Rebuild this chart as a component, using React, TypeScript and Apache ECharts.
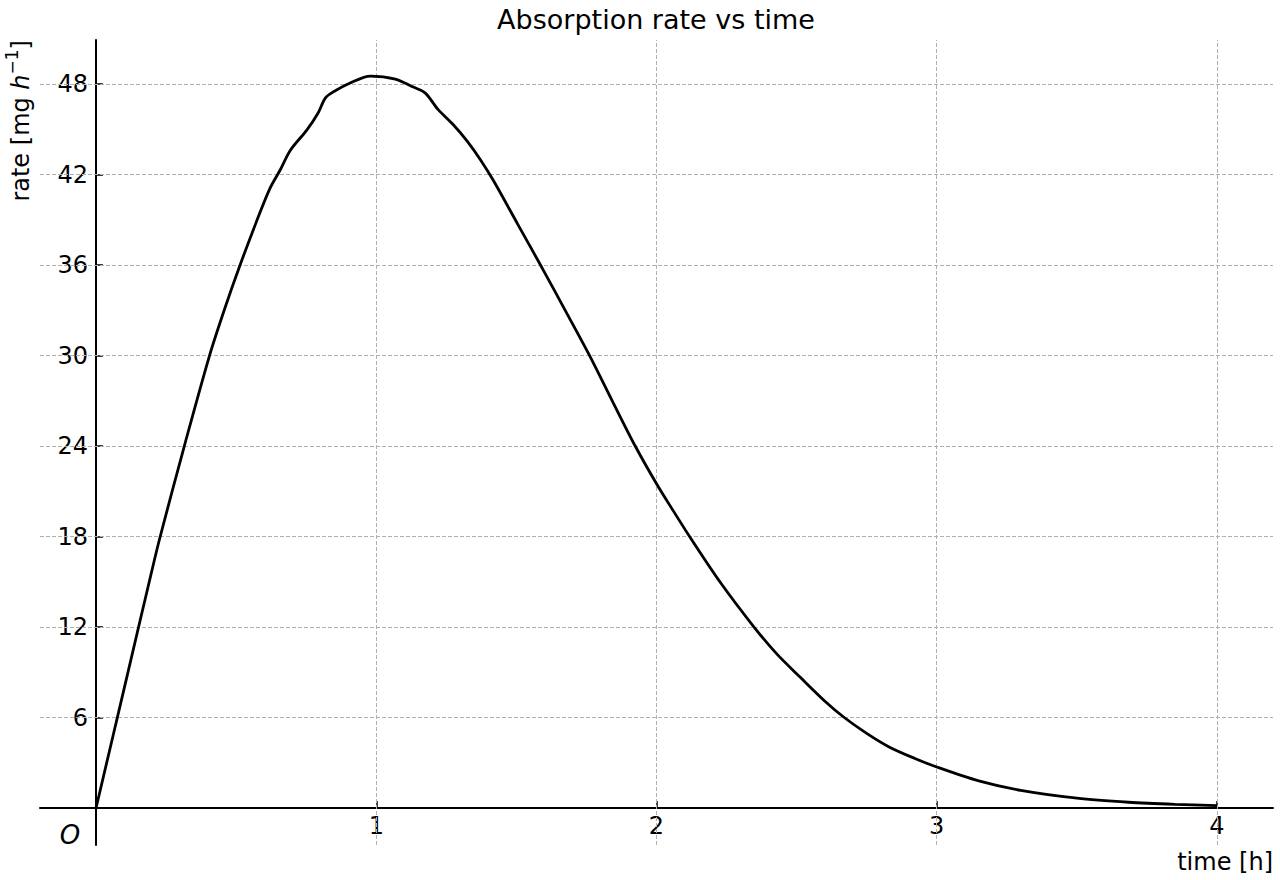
import React, { useEffect, useRef } from "react";
import * as echarts from "echarts";

const timeH = [0, 0.1, 0.2, 0.229, 0.315, 0.405, 0.46, 0.514, 0.577, 0.621, 0.657, 0.693, 0.752, 0.793, 0.818, 0.846, 0.907, 0.979, 1.068, 1.132, 1.175, 1.221, 1.275, 1.325, 1.371, 1.418, 1.505, 1.592, 1.68, 1.764, 1.842, 1.924, 2.0, 2.06, 2.125, 2.23, 2.348, 2.43, 2.514, 2.6, 2.67, 2.75, 2.83, 2.92, 3.0, 3.15, 3.3, 3.5, 3.685, 3.85, 4.0];
const rate = [0, 7.9, 15.8, 18, 24, 30, 33.15, 36, 39.1, 41.1, 42.3, 43.6, 44.95, 46.1, 47.07, 47.47, 48.07, 48.53, 48.33, 47.8, 47.4, 46.3, 45.3, 44.2, 43.0, 41.6, 38.7, 35.8, 32.8, 29.9, 27.0, 24, 21.5, 19.7, 17.8, 14.9, 12, 10.2, 8.65, 7.1, 6.0, 4.95, 4.05, 3.3, 2.72, 1.8, 1.17, 0.65, 0.38, 0.24, 0.16];
const xTicks = [1, 2, 3, 4];
const yTicks = [6, 12, 18, 24, 30, 36, 42, 48];
const xRange = [-0.2, 4.2];
const yRange = [-2.453, 50.92];

const FONT = "DejaVu Sans";

export default function App() {
  const ref = useRef<HTMLDivElement>(null);
  useEffect(() => {
    const chart = echarts.init(ref.current!, null, { renderer: "svg" });
    const W = 1280, H = 880;
    const gL = 40, gR = 7, gT = 40, gB = 35;
    const gw = W - gL - gR, gh = H - gT - gB;
    // move the spines to the data origin (the other axis' zero)
    const xAxisOffset = -((0 - yRange[0]) / (yRange[1] - yRange[0])) * gh;
    const yAxisOffset = -((0 - xRange[0]) / (xRange[1] - xRange[0])) * gw;
    const gridStyle = { type: [4, 2] as any, color: "#b0b0b0", width: 1 };
    chart.setOption({
      animation: false,
      backgroundColor: "#fff",
      grid: { left: gL, right: gR, top: gT, bottom: gB, containLabel: false },
      xAxis: {
        type: "value",
        min: xRange[0],
        max: xRange[1],
        offset: xAxisOffset,
        axisLine: { onZero: false, lineStyle: { color: "#000", width: 2 } },
        axisTick: { show: true, inside: true, length: 7, customValues: xTicks, lineStyle: { color: "#000", width: 1.5 } },
        axisLabel: { customValues: xTicks, fontSize: 24, color: "#000", margin: 6, fontFamily: FONT },
        splitLine: { show: false },
      },
      yAxis: {
        type: "value",
        min: yRange[0],
        max: yRange[1],
        offset: yAxisOffset,
        axisLine: { onZero: false, lineStyle: { color: "#000", width: 2 } },
        axisTick: { show: true, inside: true, length: 7, customValues: yTicks, lineStyle: { color: "#000", width: 1.5 } },
        axisLabel: { customValues: yTicks, fontSize: 24, color: "#000", margin: 8, fontFamily: FONT },
        splitLine: { show: false },
      },
      graphic: [
        {
          type: "text",
          x: 656,
          y: 19,
          style: { text: "Absorption rate vs time", fontSize: 27, fontFamily: FONT, fill: "#000", align: "center", verticalAlign: "middle" },
        },
        {
          type: "text",
          x: 1273,
          y: 862,
          style: { text: "time [h]", fontSize: 24, fontFamily: FONT, fill: "#000", align: "right", verticalAlign: "middle" },
        },
        {
          type: "text",
          x: 70,
          y: 835,
          style: { text: "O", fontSize: 26, fontStyle: "italic", fontFamily: FONT, fill: "#000", align: "center", verticalAlign: "middle" },
        },
        {
          type: "text",
          x: 21,
          y: 40,
          rotation: Math.PI / 2,
          style: {
            text: "rate [mg {i|h}{s|−1}]",
            fontSize: 24,
            fontFamily: FONT,
            fill: "#000",
            align: "right",
            verticalAlign: "middle",
            rich: {
              i: { fontSize: 24, fontStyle: "italic", fontFamily: FONT, fill: "#000" },
              s: { fontSize: 17, fontFamily: FONT, fill: "#000", padding: [0, 0, 18, 0] },
            },
          },
        },
      ],
      series: [
        {
          type: "line",
          data: timeH.map((t, i) => [t, rate[i]]),
          showSymbol: false,
          smooth: 0.3,
          lineStyle: { color: "#000", width: 2.8 },
          z: 5,
          markLine: {
            silent: true,
            symbol: ["none", "none"],
            label: { show: false },
            lineStyle: gridStyle,
            data: [
              ...yTicks.map((v) => ({ yAxis: v })),
              ...xTicks.map((v) => ({ xAxis: v })),
            ],
          },
        },
      ],
    });
    return () => chart.dispose();
  }, []);
  return <div ref={ref} style={{ position: "fixed", left: 0, top: 0, width: 1280, height: 880 }} />;
}
